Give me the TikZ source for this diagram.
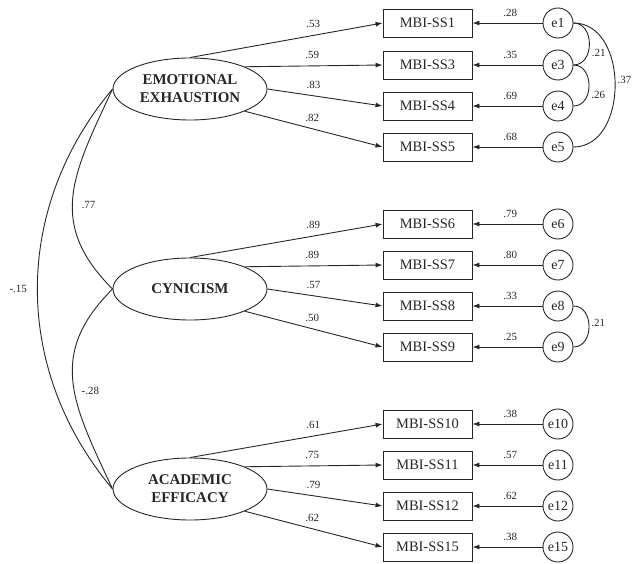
\documentclass[tikz,border=0pt]{standalone}
\usepackage{fontspec}
\setmainfont{Liberation Serif}
\usetikzlibrary{arrows.meta,shapes.geometric,positioning}
\tikzset{
	latent/.style={ellipse,draw,minimum width=154bp,minimum height=62bp,inner sep=0pt,align=center,font=\fontsize{15}{18}\selectfont\bfseries},
	obs/.style={rectangle,draw,minimum width=89bp,minimum height=28bp,inner sep=0pt,font=\fontsize{14.5}{16}\selectfont},
	err/.style={circle,draw,minimum size=30bp,inner sep=0pt,font=\fontsize{14}{16}\selectfont},
	lab/.style={inner sep=2bp,font=\fontsize{11}{12}\selectfont}
}
% observed item, its error term and the error path
\newcommand{\indic}[3]{%
	\node[obs] (ss#1) at (427.5,-#2) {MBI-SS#1};
	\node[err] (e#1) at (558,-#2) {e#1};
	\draw[->] (e#1) -- node[lab,pos=.46,above=4bp] {#3} (ss#1);
}
% four loadings of one factor
\newcommand{\loadings}[9]{%
	\draw[->] (#1.north) -- node[lab,pos=.64,above=5bp] {#6} (ss#2.west);
	\draw[->] (#1.north east) -- node[lab,pos=.49,above=5bp] {#7} (ss#3.west);
	\draw[->] (#1.east) -- node[lab,pos=.40,above=5bp] {#8} (ss#4.west);
	\draw[->] (#1.south east) -- node[lab,pos=.49,above=5bp] {#9} (ss#5.west);
}
\begin{document}
\begin{tikzpicture}[x=1bp,y=1bp,line width=.9bp,color=black!85,>={Latex[length=7bp,width=5bp]}]
	\useasboundingbox (0,0) rectangle (632,-564);
	\node[latent] (EE) at (190,-89) {EMOTIONAL\\EXHAUSTION};
	\node[latent] (CY) at (190,-289) {CYNICISM};
	\node[latent] (AE) at (190,-489) {ACADEMIC\\EFFICACY};
	\indic{1}{23}{.28}
	\indic{3}{65}{.35}
	\indic{4}{106}{.69}
	\indic{5}{147}{.68}
	\indic{6}{224}{.79}
	\indic{7}{265}{.80}
	\indic{8}{306}{.33}
	\indic{9}{347}{.25}
	\indic{10}{424}{.38}
	\indic{11}{465}{.57}
	\indic{12}{506}{.62}
	\indic{15}{547}{.38}
	\loadings{EE}{1}{3}{4}{5}{.53}{.59}{.83}{.82}
	\loadings{CY}{6}{7}{8}{9}{.89}{.89}{.57}{.50}
	\loadings{AE}{10}{11}{12}{15}{.61}{.75}{.79}{.62}
	% factor covariances
	\draw (EE.west) to[out=245,in=135,looseness=1.2] node[lab,pos=.55,right=7bp] {.77} (CY.west);
	\draw (EE.west) to[out=230,in=130] node[lab,pos=.5,left=8bp] {-.15} (AE.west);
	\draw (CY.west) to[out=225,in=115,looseness=1.2] node[lab,pos=.55,right=5bp] {-.28} (AE.west);
	% error covariances
	\draw (e1.east) to[out=0,in=0,looseness=1.3] node[lab,pos=.5,right,yshift=-9bp] {.21} (e3.east);
	\draw (e3.east) to[out=0,in=0,looseness=1.3] node[lab,pos=.5,right,yshift=-9bp] {.26} (e4.east);
	\draw (e1.east) to[out=0,in=0,looseness=1.15] node[lab,pos=.5,right,yshift=5bp] {.37} (e5.east);
	\draw (e8.east) to[out=0,in=0,looseness=1.3] node[lab,pos=.5,right,yshift=4bp] {.21} (e9.east);
\end{tikzpicture}
\end{document}
